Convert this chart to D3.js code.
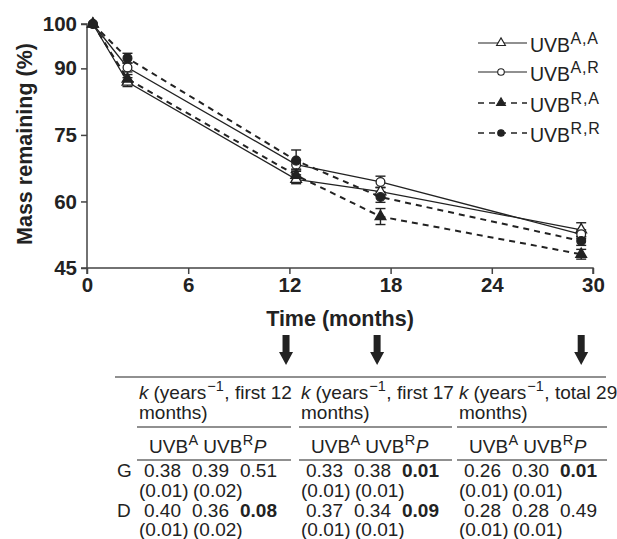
<!DOCTYPE html>
<html>
<head>
<meta charset="utf-8">
<script src="https://cdn.jsdelivr.net/npm/d3@7"></script>
<style>
  body { margin: 0; background: #fff; }
  svg { font-family: "Liberation Sans", Arial, Helvetica, sans-serif; }
</style>
</head>
<body>
<svg id="chart" width="617" height="539"></svg>
<script>
// sampling times (months)
const times = [0.35, 2.4, 12.4, 17.4, 29.3];

// mass remaining (%) per treatment
const seriesNames = ['A,A', 'A,R', 'R,A', 'R,R'];
const massAA = [100, 86.9, 65.0, 62.2, 53.6];
const massAR = [100, 90.2, 68.3, 64.4, 52.6];
const massRA = [100, 87.6, 65.9, 56.6, 48.1];
const massRR = [100, 92.3, 69.2, 61.0, 51.1];
const errAA = [0, 1.0, 1.0, 1.0, 1.6];
const errAR = [0, 1.0, 1.0, 1.3, 1.0];
const errRA = [0, 1.0, 1.2, 1.8, 1.1];
const errRR = [0, 1.1, 2.4, 1.2, 1.0];

const xTicks = [0, 6, 12, 18, 24, 30];
const yTicks = [45, 60, 75, 90, 100];

// decay constants table
const periodLabels = ['first 12', 'first 17', 'total 29'];
const arrowTimes = [11.8, 17.2, 29.3];
const gA = ['0.38', '0.33', '0.26'];
const gR = ['0.39', '0.38', '0.30'];
const gP = ['0.51', '0.01', '0.01'];
const gAse = ['(0.01)', '(0.01)', '(0.01)'];
const gRse = ['(0.02)', '(0.01)', '(0.01)'];
const dA = ['0.40', '0.37', '0.28'];
const dR = ['0.36', '0.34', '0.28'];
const dP = ['0.08', '0.09', '0.49'];
const dAse = ['(0.01)', '(0.01)', '(0.01)'];
const dRse = ['(0.02)', '(0.01)', '(0.01)'];

const svg = d3.select('#chart');
const ink = '#222';

const x = d3.scaleLinear().domain([0, 30]).range([87, 593]);
const y = d3.scaleLinear().domain([45, 100]).range([268, 24]);

const series = [
  { name: seriesNames[0], vals: massAA, err: errAA, dash: null, shape: d3.symbolTriangle, fill: '#fff' },
  { name: seriesNames[1], vals: massAR, err: errAR, dash: null, shape: d3.symbolCircle, fill: '#fff' },
  { name: seriesNames[2], vals: massRA, err: errRA, dash: '6,5', shape: d3.symbolTriangle, fill: ink },
  { name: seriesNames[3], vals: massRR, err: errRR, dash: '6,5', shape: d3.symbolCircle, fill: ink },
];

// axes
const yAxis = svg.append('g')
  .attr('transform', 'translate(87,0)')
  .call(d3.axisLeft(y).tickValues(yTicks).tickSize(6).tickPadding(4));
const xAxis = svg.append('g')
  .attr('transform', 'translate(0,268)')
  .call(d3.axisBottom(x).tickValues(xTicks).tickSize(6).tickPadding(3));
[yAxis, xAxis].forEach(a => {
  a.select('.domain').attr('stroke', '#444').attr('stroke-width', 1.5);
  a.selectAll('.tick line').attr('stroke', '#444').attr('stroke-width', 1.5);
  a.selectAll('.tick text')
    .attr('fill', ink)
    .style('font-size', '20.5px')
    .style('font-weight', 'bold')
    .style('font-family', '"Liberation Sans", Arial, sans-serif');
});
xAxis.select('.domain').attr('d', 'M87,6V0H593V6');
yAxis.select('.domain').attr('d', 'M-6,24H0V268H-6');

svg.append('text')
  .attr('transform', 'translate(32,144) rotate(-90)')
  .attr('text-anchor', 'middle')
  .style('font-size', '21.5px')
  .style('font-weight', 'bold')
  .attr('fill', ink)
  .text('Mass remaining (%)');

svg.append('text')
  .attr('x', 340).attr('y', 326)
  .attr('text-anchor', 'middle')
  .style('font-size', '21.5px')
  .style('font-weight', 'bold')
  .attr('fill', ink)
  .text('Time (months)');

// lines, error bars, markers
const line = d3.line().x((d, i) => x(times[i])).y(d => y(d));
const plot = svg.append('g');

series.forEach(s => {
  plot.append('path')
    .attr('d', line(s.vals))
    .attr('fill', 'none')
    .attr('stroke', ink)
    .attr('stroke-width', s.dash ? 2 : 1.3)
    .attr('stroke-dasharray', s.dash);
});

series.forEach(s => {
  s.vals.forEach((v, i) => {
    if (!s.err[i]) return;
    const cx = x(times[i]);
    const g = plot.append('g').attr('stroke', ink).attr('stroke-width', 1.4);
    g.append('line').attr('x1', cx).attr('x2', cx)
      .attr('y1', y(v - s.err[i])).attr('y2', y(v + s.err[i]));
    [v - s.err[i], v + s.err[i]].forEach(e => {
      g.append('line').attr('x1', cx - 5).attr('x2', cx + 5)
        .attr('y1', y(e)).attr('y2', y(e));
    });
  });
});

series.forEach(s => {
  plot.selectAll(null)
    .data(s.vals)
    .join('path')
      .attr('transform', (d, i) => `translate(${x(times[i])},${y(d)})`)
      .attr('d', d3.symbol().type(s.shape).size(s.shape === d3.symbolCircle ? 60 : 50))
      .attr('fill', s.fill)
      .attr('stroke', ink)
      .attr('stroke-width', 1.3);
});

// runs of text pieces laid out left to right, superscripts as their own texts
function textRun(parent, x0, baseline, pieces) {
  let cx = x0;
  pieces.forEach(p => {
    const t = parent.append('text')
      .attr('x', cx)
      .attr('y', baseline - (p.sup ? p.sup : 0))
      .style('font-size', p.size || null)
      .style('font-style', p.italic ? 'italic' : null)
      .style('letter-spacing', p.spacing || null)
      .text(p.text);
    cx += t.node().getComputedTextLength() + (p.gap || 0);
  });
}

// legend
const legendRowY = [43, 72, 103, 133];
const legend = svg.append('g').attr('fill', ink).style('font-size', '19.5px');
series.forEach((s, i) => {
  const ly = legendRowY[i];
  legend.append('line')
    .attr('x1', 478).attr('x2', 527)
    .attr('y1', ly).attr('y2', ly)
    .attr('stroke', ink)
    .attr('stroke-width', s.dash ? 1.6 : 1.2)
    .attr('stroke-dasharray', s.dash);
  legend.append('path')
    .attr('transform', `translate(501,${ly})`)
    .attr('d', d3.symbol().type(s.shape).size(34))
    .attr('fill', s.fill)
    .attr('stroke', ink)
    .attr('stroke-width', 1.1);
  textRun(legend, 530, ly + 9, [
    { text: 'UVB', gap: 0.5 },
    { text: s.name, sup: 8, size: '16px', spacing: '0.8px' },
  ]);
});

// arrows
arrowTimes.forEach(t => {
  const ax = x(t);
  svg.append('path')
    .attr('d', `M${ax - 3.5},335H${ax + 3.5}V352H${ax + 7}L${ax},365L${ax - 7},352H${ax - 3.5}Z`)
    .attr('fill', ink);
});

// table
const tbl = svg.append('g').attr('fill', ink).style('font-size', '19px');
tbl.append('line')
  .attr('x1', 115).attr('x2', 606).attr('y1', 377).attr('y2', 377)
  .attr('stroke', ink).attr('stroke-width', 1.2);

const groupX = [139, 301, 459];
const groupEnd = [291, 452, 607];
const rowBase = { head1: 398.5, head2: 419, sub: 453, g: 477, gse: 497, d: 517, dse: 536 };

function cell(xp, yp, txt, bold) {
  tbl.append('text').attr('x', xp).attr('y', yp)
    .style('font-weight', bold ? 'bold' : null)
    .text(txt);
}

cell(117, rowBase.g, 'G');
cell(117, rowBase.d, 'D');

periodLabels.forEach((p, i) => {
  const gx = groupX[i];
  textRun(tbl, gx, rowBase.head1, [
    { text: 'k', italic: true, gap: 5 },
    { text: '(years', gap: 1 },
    { text: '\u22121', sup: 8, size: '14.5px', gap: 0.5 },
    { text: ', ' + p },
  ]);
  cell(gx, rowBase.head2, 'months)');

  tbl.append('line')
    .attr('x1', gx - 2).attr('x2', groupEnd[i])
    .attr('y1', 427).attr('y2', 427)
    .attr('stroke', ink).attr('stroke-width', 1.2);

  textRun(tbl, gx + 10, rowBase.sub, [
    { text: 'UVB', gap: 0.5 },
    { text: 'A', sup: 8, size: '14.5px', gap: 5 },
    { text: 'UVB', gap: 0.5 },
    { text: 'R', sup: 8, size: '14.5px', gap: 0.5 },
    { text: 'P', italic: true },
  ]);

  tbl.append('line')
    .attr('x1', gx - 2).attr('x2', groupEnd[i])
    .attr('y1', 460).attr('y2', 460)
    .attr('stroke', ink).attr('stroke-width', 1.2);

  cell(gx + 5, rowBase.g, gA[i]);
  cell(gx + 53, rowBase.g, gR[i]);
  cell(gx + 101, rowBase.g, gP[i], +gP[i] < 0.1);
  cell(gx, rowBase.gse, gAse[i]);
  cell(gx + 54, rowBase.gse, gRse[i]);
  cell(gx + 5, rowBase.d, dA[i]);
  cell(gx + 53, rowBase.d, dR[i]);
  cell(gx + 101, rowBase.d, dP[i], +dP[i] < 0.1);
  cell(gx, rowBase.dse, dAse[i]);
  cell(gx + 54, rowBase.dse, dRse[i]);
});
</script>
</body>
</html>
